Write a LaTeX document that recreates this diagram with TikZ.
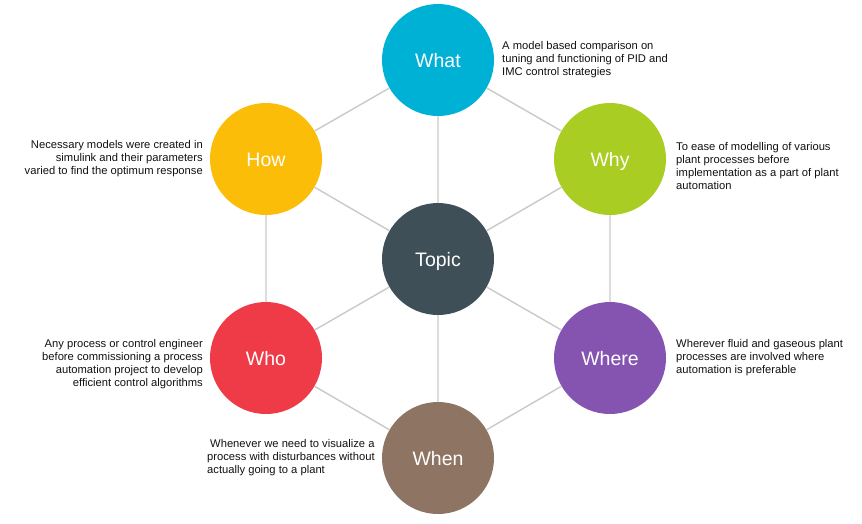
\documentclass[tikz,border=0pt]{standalone}
\usepackage{fontspec}
\setmainfont{Liberation Sans}
\begin{document}
\definecolor{cWhat}{HTML}{00B1D6}
\definecolor{cWhy}{HTML}{A9CD22}
\definecolor{cWhere}{HTML}{8554B1}
\definecolor{cWhen}{HTML}{8E7462}
\definecolor{cWho}{HTML}{EF3A47}
\definecolor{cHow}{HTML}{FBBD08}
\definecolor{cTopic}{HTML}{3F4F57}
\definecolor{cLink}{HTML}{C9C9C9}
\definecolor{cText}{HTML}{111111}
\begin{tikzpicture}[x=1pt,y=-1pt,
  hub/.style={circle,minimum size=112pt,inner sep=0pt,text=white,
    text height=14pt,text depth=0pt,font=\fontsize{19.5}{21}\selectfont},
  link/.style={draw=cLink,line width=1.4pt},
  descl/.style={align=left,anchor=west,text=cText,font=\fontsize{11.2}{13}\selectfont,inner sep=0pt},
  descr/.style={align=right,anchor=east,text=cText,font=\fontsize{11.2}{13}\selectfont,inner sep=0pt}]
\useasboundingbox (0,0) rectangle (862,523);
% circles
\node[hub,fill=cTopic] (topic) at (438,259) {Topic};
\node[hub,fill=cWhat]  (what)  at (438,60)  {What};
\node[hub,fill=cWhy]   (why)   at (610,159) {Why};
\node[hub,fill=cWhere] (where) at (610,358) {Where};
\node[hub,fill=cWhen]  (when)  at (438,458) {When};
\node[hub,fill=cWho]   (who)   at (266,358) {Who};
\node[hub,fill=cHow]   (how)   at (266,159) {How};
% connectors between circle borders
\path[link] (topic) -- (what) (topic) -- (why) (topic) -- (where)
  (topic) -- (when) (topic) -- (who) (topic) -- (how)
  (what) -- (why) (why) -- (where) (where) -- (when)
  (when) -- (who) (who) -- (how) (how) -- (what);
% descriptions
\node[descl] (dwhat) at (502,60) {A model based comparison on\\tuning and functioning of PID and\\IMC control strategies};
\node[descr] (dhow) at (203,159) {Necessary models were created in\\simulink and their parameters\\varied to find the optimum response};
\node[descl] (dwhy) at (676,166) {To ease of modelling of various\\plant processes before\\implementation as a part of plant\\automation};
\node[descr] (dwho) at (203,364) {Any process or control engineer\\before commissioning a process\\automation project to develop\\efficient control algorithms};
\node[descl] (dwhere) at (676,358) {Wherever fluid and gaseous plant\\processes are involved where\\automation is preferable};
\node[descl] (dwhen) at (207,458) {\hspace{3pt}Whenever we need to visualize a\\process with disturbances without\\actually going to a plant};
\end{tikzpicture}
\end{document}
